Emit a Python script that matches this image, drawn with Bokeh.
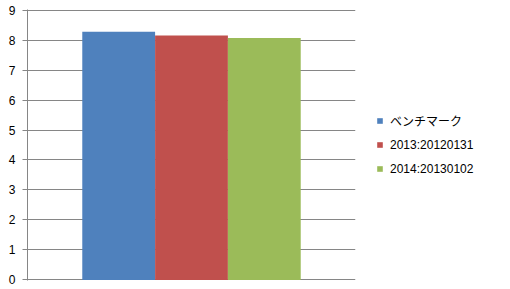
from bokeh.plotting import figure
from bokeh.models import FactorRange, Range1d, Legend, LegendItem, ColumnDataSource, FixedTicker
from bokeh.transform import dodge
from bokeh.embed import file_html
from bokeh.resources import INLINE

categories = ["all"]
series_names = ["ベンチマーク", "2013:20120131", "2014:20130102"]
series_values = [8.28, 8.15, 8.07]
colors = ["#4F81BD", "#C0504D", "#9BBB59"]
y_ticks = [0, 1, 2, 3, 4, 5, 6, 7, 8, 9]

bar_w = 0.222
offsets = [-bar_w, 0.0, bar_w]

p = figure(
    x_range=FactorRange(factors=categories, range_padding=0),
    y_range=Range1d(-0.02, 9.02),
    width=510, height=289,
    frame_width=328, frame_height=271,
    min_border_left=27, min_border_top=9, min_border_bottom=9, min_border_right=0,
    output_backend="svg", toolbar_location=None,
)

items = []
for name, val, col, off in zip(series_names, series_values, colors, offsets):
    src = ColumnDataSource(dict(cat=categories, val=[val]))
    r = p.vbar(x=dodge("cat", off, range=p.x_range), bottom=0, top="val", width=bar_w,
               source=src, fill_color=col, line_color=None)
    items.append(LegendItem(label=name, renderers=[r]))

p.xaxis.visible = False
p.xgrid.grid_line_color = None
p.ygrid.grid_line_color = "#868686"
p.ygrid.grid_line_width = 1
p.ygrid.ticker = FixedTicker(ticks=y_ticks)
p.outline_line_color = None

ya = p.yaxis[0]
ya.ticker = FixedTicker(ticks=y_ticks)
ya.axis_line_color = "#868686"
ya.major_tick_line_color = "#868686"
ya.major_tick_out = 5
ya.major_tick_in = 0
ya.minor_tick_line_color = None
ya.major_label_standoff = 7
ya.major_label_text_font = "Liberation Sans"
ya.major_label_text_font_size = "12px"
ya.major_label_text_color = "#000000"

legend = Legend(items=items, location="center_left", margin=21, padding=0,
                border_line_color=None, background_fill_alpha=0,
                glyph_width=7, glyph_height=7, label_standoff=7,
                label_height=18, spacing=6,
                label_text_font="Liberation Sans, Noto Sans CJK JP",
                label_text_font_size="12px", label_text_color="#000000")
p.add_layout(legend, "right")

open("out.html", "w").write(file_html(p, INLINE))
